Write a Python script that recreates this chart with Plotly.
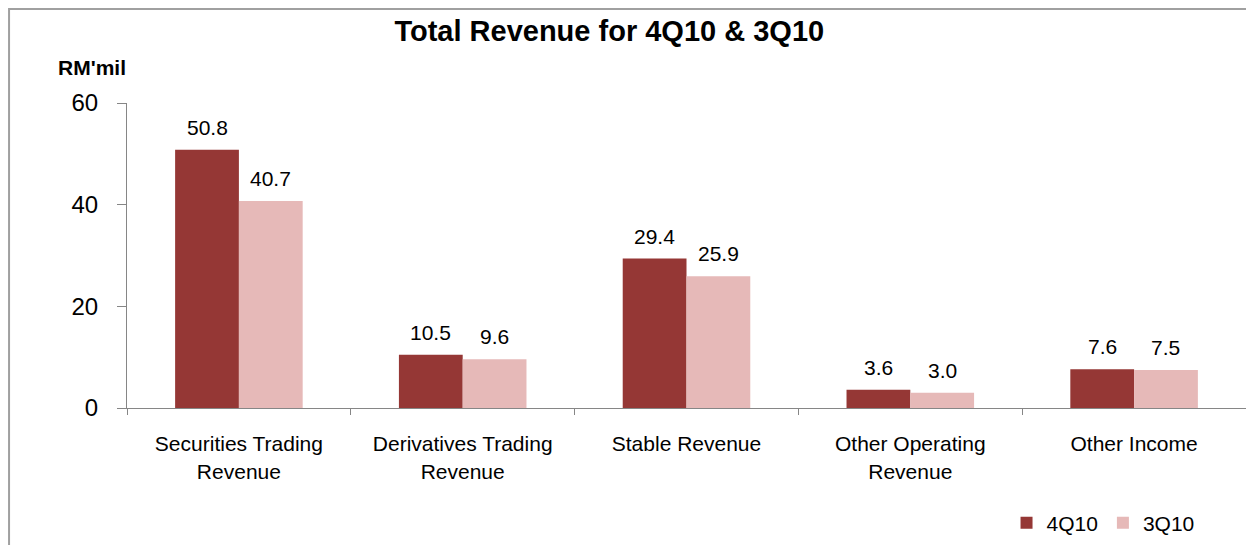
import plotly.graph_objects as go

categories = ["Securities Trading<br>Revenue", "Derivatives Trading<br>Revenue", "Stable Revenue",
              "Other Operating<br>Revenue", "Other Income"]
q4_values = [50.8, 10.5, 29.4, 3.6, 7.6]
q3_values = [40.7, 9.6, 25.9, 3.0, 7.5]
series_names = ["4Q10", "3Q10"]
series_colors = ["#953735", "#E6B9B8"]
y_ticks = [0, 20, 40, 60]

FONT = "Liberation Sans, Arial, sans-serif"
W, H = 1246, 545
ML, MR, MT, MB = 127, 0, 103, 137
BARGAP = 0.43

fig = go.Figure()
for name, vals, col in zip(series_names, [q4_values, q3_values], series_colors):
    fig.add_trace(go.Bar(x=categories, y=vals, name=name, marker_color=col,
                         marker_line_width=0))

# value labels placed above each bar
cat_px = (W - ML - MR) / len(categories)
bar_px = cat_px * (1 - BARGAP) / 2
annotations = []
for i, vals in enumerate([q4_values, q3_values]):
    shift = (i - 0.5) * bar_px
    for c, v in zip(categories, vals):
        annotations.append(dict(x=c, y=v, xref="x", yref="y", text=f"{v:.1f}",
                                showarrow=False, xanchor="center", yanchor="bottom",
                                xshift=shift, yshift=9,
                                font=dict(size=21, family=FONT, color="#000000")))

annotations.append(dict(text="<b>RM'mil</b>", xref="paper", yref="paper", x=-0.031, y=1.115,
                        xanchor="center", yanchor="middle", showarrow=False,
                        font=dict(size=21, family=FONT, color="#000000")))

fig.update_layout(
    width=W, height=H,
    margin=dict(l=ML, r=MR, t=MT, b=MB),
    paper_bgcolor="white", plot_bgcolor="white",
    font=dict(family=FONT, color="#000000"),
    barmode="group", bargap=BARGAP, bargroupgap=0,
    showlegend=True,
    legend=dict(orientation="h", x=0.786, y=-0.377, xanchor="left", yanchor="middle",
                font=dict(size=21), itemwidth=30, traceorder="normal",
                bgcolor="rgba(0,0,0,0)"),
    title=dict(text="<b>Total Revenue for 4Q10 & 3Q10</b>", x=0.489, xanchor="center",
               y=0.944, yanchor="middle", font=dict(size=29, family=FONT, color="#000000")),
    xaxis=dict(showline=True, linecolor="#868686", linewidth=1, ticks="outside",
               tickson="boundaries", ticklen=6, tickcolor="#868686",
               tickfont=dict(size=21), showgrid=False, ticklabelstandoff=17),
    yaxis=dict(range=[0, 60], tickvals=y_ticks, showline=True, linecolor="#868686",
               linewidth=1, ticks="outside", ticklen=9, tickcolor="#868686",
               tickfont=dict(size=24), showgrid=False, zeroline=False,
               ticklabelstandoff=14),
    annotations=annotations,
    shapes=[dict(type="rect", xref="paper", yref="paper", x0=-0.1054, x1=1.05, y0=-0.5, y1=1.308,
                 line=dict(color="#A0A0A0", width=2), fillcolor="rgba(0,0,0,0)", layer="below")],
)

fig.write_html("out.html", config={"displayModeBar": False},
               post_script="document.body.style.margin='0';")
